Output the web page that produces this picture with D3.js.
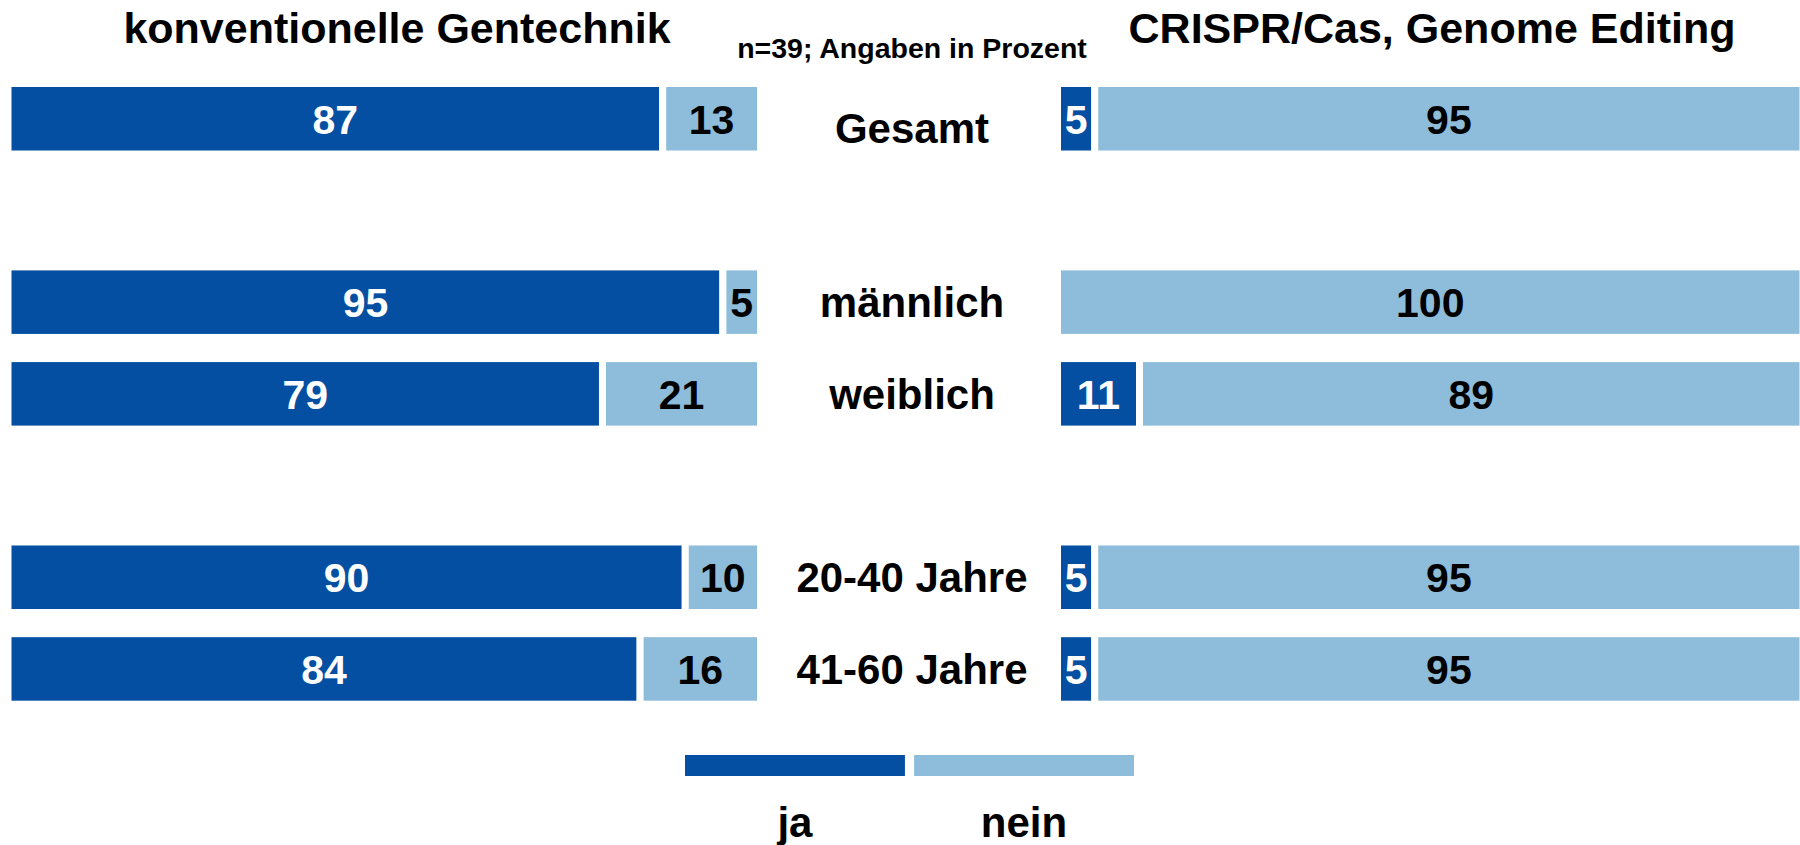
<!DOCTYPE html>
<html>
<head>
<meta charset="utf-8">
<script src="https://cdn.jsdelivr.net/npm/d3@7"></script>
<style>
  html, body { margin: 0; padding: 0; background: #fff; }
  svg { display: block; font-family: "Liberation Sans", Arial, sans-serif; font-weight: bold; }
</style>
</head>
<body>
<script>
// ---- data ----
const categories = ["Gesamt", "männlich", "weiblich", "20-40 Jahre", "41-60 Jahre"];
const groups = [["Gesamt"], ["männlich", "weiblich"], ["20-40 Jahre", "41-60 Jahre"]];
const konvJa   = [87, 95, 79, 90, 84];
const konvNein = [13, 5, 21, 10, 16];
const crisprJa   = [5, 0, 11, 5, 5];
const crisprNein = [95, 100, 89, 95, 95];
const seriesNames = ["ja", "nein"];
const panelTitles = ["konventionelle Gentechnik", "CRISPR/Cas, Genome Editing"];
const noteText = "n=39; Angaben in Prozent";

// ---- styles ----
const W = 1800, H = 845;
const colJa = "#044FA2", colNein = "#8DBDDA";
const gap = 7;

const svg = d3.select("body").append("svg").attr("width", W).attr("height", H);

// band domain with spacer rows between groups
const domain = [];
groups.forEach((g, i) => { if (i > 0) domain.push("__gap" + i); g.forEach(c => domain.push(c)); });

const y = d3.scaleBand().domain(domain).range([83.5, 704.2]).paddingInner(0.231).paddingOuter(0);
const xL = d3.scaleLinear().domain([0, 100]).range([8, 760.5]);
const xR = d3.scaleLinear().domain([0, 100]).range([1057.5, 1803]);

function panel(x, ja, nein) {
  const rows = categories.map((c, i) => ({ c, ja: ja[i], nein: nein[i] }));
  const g = svg.append("g");
  const segs = [];
  rows.forEach(r => {
    segs.push({ c: r.c, x0: 0, x1: r.ja, v: r.ja, s: "ja" });
    segs.push({ c: r.c, x0: r.ja, x1: r.ja + r.nein, v: r.nein, s: "nein" });
  });
  const vis = segs.filter(d => d.v > 0);
  g.selectAll("rect").data(vis).join("rect")
    .attr("x", d => x(d.x0))
    .attr("y", d => y(d.c))
    .attr("width", d => x(d.x1) - x(d.x0))
    .attr("height", y.bandwidth())
    .attr("fill", d => d.s === "ja" ? colJa : colNein)
    .attr("stroke", "#fff")
    .attr("stroke-width", gap);
  g.selectAll("text").data(vis).join("text")
    .attr("x", d => (x(d.x0) + x(d.x1)) / 2)
    .attr("y", d => y(d.c) + y.bandwidth() / 2 + 15)
    .attr("text-anchor", "middle")
    .attr("font-size", 41)
    .attr("fill", d => d.s === "ja" ? "#fff" : "#000")
    .text(d => d.v);
}
panel(xL, konvJa, konvNein);
panel(xR, crisprJa, crisprNein);

// category labels
svg.append("g").selectAll("text").data(categories).join("text")
  .attr("x", 912)
  .attr("y", (d, i) => y(d) + y.bandwidth() / 2 + 15 + (i === 0 ? 9 : 0))
  .attr("text-anchor", "middle")
  .attr("font-size", 42)
  .attr("fill", "#000")
  .text(d => d);

// titles
svg.append("g").selectAll("text").data(panelTitles).join("text")
  .attr("x", (d, i) => i === 0 ? 397 : 1432)
  .attr("y", 43)
  .attr("text-anchor", "middle")
  .attr("font-size", 43)
  .attr("fill", "#000")
  .text(d => d);

svg.append("text")
  .attr("x", 912).attr("y", 58)
  .attr("text-anchor", "middle")
  .attr("font-size", 28.5)
  .attr("fill", "#000")
  .text(noteText);

// legend
const lx = d3.scaleBand().domain(seriesNames).range([685, 1134]).paddingInner(0.04);
const lg = svg.append("g");
lg.selectAll("rect").data(seriesNames).join("rect")
  .attr("x", d => lx(d)).attr("y", 755)
  .attr("width", lx.bandwidth()).attr("height", 21)
  .attr("fill", d => d === "ja" ? colJa : colNein);
lg.selectAll("text").data(seriesNames).join("text")
  .attr("x", d => lx(d) + lx.bandwidth() / 2)
  .attr("y", 837)
  .attr("text-anchor", "middle")
  .attr("font-size", 42)
  .attr("fill", "#000")
  .text(d => d);
</script>
</body>
</html>
